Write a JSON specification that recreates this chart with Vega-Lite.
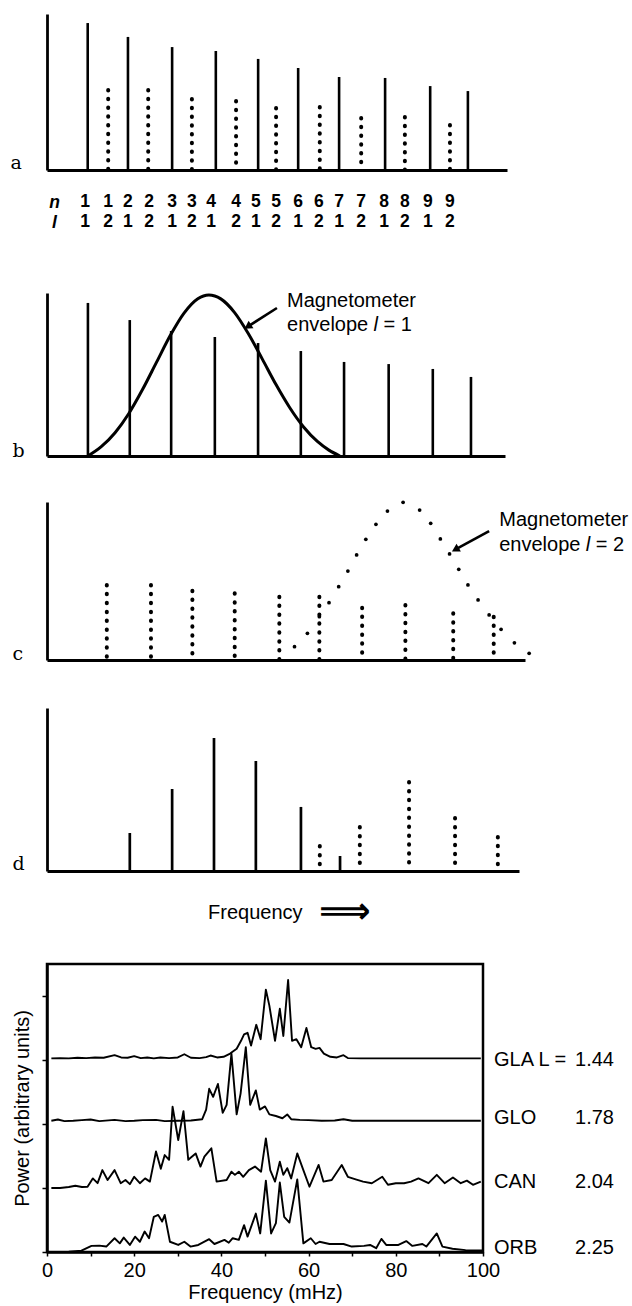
{
"$schema": "https://vega.github.io/schema/vega-lite/v6.json",
"padding": {"left": 10, "top": 0, "right": 0, "bottom": 0},
"background": "white",
"spacing": 0,
"bounds": "flush",
"config": {
  "view": {"stroke": null},
  "font": "Liberation Sans",
  "text": {"font": "Liberation Sans", "fontSize": 20, "color": "black"},
  "axis": {"domainColor": "black", "tickColor": "black", "labelColor": "black", "titleColor": "black", "grid": false}
},
"datasets": {
  "modesA": [
    {"f":8.85,"p":94.2,"l":1},{"f":13.3,"p":51.3,"l":2},{"f":17.6,"p":85.3,"l":1},{"f":22.0,"p":51.3,"l":2},
    {"f":27.2,"p":78.8,"l":1},{"f":31.5,"p":45.5,"l":2},{"f":36.7,"p":76.3,"l":1},{"f":41.1,"p":44.2,"l":2},
    {"f":45.9,"p":71.2,"l":1},{"f":49.8,"p":39.7,"l":2},{"f":54.6,"p":65.4,"l":1},{"f":59.3,"p":40.4,"l":2},
    {"f":63.5,"p":59.6,"l":1},{"f":68.3,"p":33.3,"l":2},{"f":73.5,"p":59.0,"l":1},{"f":77.8,"p":34.0,"l":2},
    {"f":83.3,"p":53.8,"l":1},{"f":87.6,"p":28.8,"l":2},{"f":91.5,"p":50.6,"l":1}
  ],
  "nl": [
    {"f":8.26,"n":"1","l":"1"},{"f":13.26,"n":"1","l":"2"},{"f":17.6,"n":"2","l":"1"},{"f":22.2,"n":"2","l":"2"},
    {"f":27.2,"n":"3","l":"1"},{"f":31.5,"n":"3","l":"2"},{"f":35.65,"n":"4","l":"1"},{"f":41.1,"n":"4","l":"2"},
    {"f":45.4,"n":"5","l":"1"},{"f":49.8,"n":"5","l":"2"},{"f":54.6,"n":"6","l":"1"},{"f":59.1,"n":"6","l":"2"},
    {"f":63.5,"n":"7","l":"1"},{"f":68.3,"n":"7","l":"2"},{"f":73.3,"n":"8","l":"1"},{"f":77.8,"n":"8","l":"2"},
    {"f":82.8,"n":"9","l":"1"},{"f":87.6,"n":"9","l":"2"}
  ],
  "modesB": [
    {"f":8.9,"p":93.9},{"f":18.0,"p":83.4},{"f":27.0,"p":76.7},{"f":36.5,"p":73.0},{"f":45.9,"p":69.3},
    {"f":55.2,"p":64.4},{"f":64.6,"p":57.7},{"f":74.3,"p":56.4},{"f":83.9,"p":53.4},{"f":92.2,"p":48.5}
  ],
  "envB": [
    {"f":8.9,"p":0},{"f":11.8,"p":5.7},{"f":14.8,"p":14.3},{"f":17.8,"p":26.1},{"f":20.8,"p":40.9},
    {"f":23.8,"p":57.4},{"f":26.8,"p":73.9},{"f":29.8,"p":87.7},{"f":32.8,"p":96.5},{"f":35.2,"p":98.8},
    {"f":37.8,"p":96.4},{"f":40.8,"p":88.0},{"f":43.8,"p":75.0},{"f":46.8,"p":59.6},{"f":49.8,"p":43.8},
    {"f":52.8,"p":29.6},{"f":55.8,"p":17.8},{"f":58.8,"p":8.9},{"f":61.3,"p":3.6},{"f":63.7,"p":0}
  ],
  "modesC": [
    {"f":13.0,"p":47.5},{"f":22.6,"p":47.5},{"f":31.6,"p":43.9},{"f":40.8,"p":42.2},{"f":50.5,"p":40.1},
    {"f":59.2,"p":40.1},{"f":68.5,"p":33.1},{"f":77.9,"p":34.8},{"f":88.3,"p":29.6},{"f":97.1,"p":27.4}
  ],
  "envC": [
    {"f":53.8,"p":8.4},{"f":56.6,"p":16.9},{"f":59.2,"p":27.4},{"f":61.3,"p":36.3},{"f":63.4,"p":46.4},
    {"f":65.4,"p":56.3},{"f":67.3,"p":66.5},{"f":69.3,"p":76.4},{"f":71.5,"p":85.9},{"f":74.0,"p":94.3},
    {"f":77.4,"p":99.8},{"f":81.0,"p":94.9},{"f":83.4,"p":86.5},{"f":85.5,"p":76.6},{"f":87.5,"p":67.1},
    {"f":89.5,"p":57.4},{"f":91.5,"p":47.5},{"f":93.7,"p":38.0},{"f":96.1,"p":28.5},{"f":98.7,"p":19.4},
    {"f":101.6,"p":10.9},{"f":104.8,"p":4.2}
  ],
  "modesD": [
    {"f":18.0,"p":23.3,"l":1},{"f":27.2,"p":50.3,"l":1},{"f":36.3,"p":81.6,"l":1},{"f":45.4,"p":67.5,"l":1},
    {"f":55.2,"p":39.3,"l":1},{"f":59.3,"p":15.3,"l":2},{"f":63.7,"p":9.2,"l":1},{"f":68.0,"p":27.0,"l":2},
    {"f":78.7,"p":54.6,"l":2},{"f":88.7,"p":32.5,"l":2},{"f":98.0,"p":20.9,"l":2}
  ],
  "notes": [
    {"panel":"b","f":52.2,"p":95.1,"txt":"Magnetometer","it":0},
    {"panel":"b","f":52.2,"p":80.4,"txt":"envelope","it":0},
    {"panel":"b","f":71.0,"p":80.4,"txt":"l","it":1},
    {"panel":"b","f":73.2,"p":80.4,"txt":"= 1","it":0},
    {"panel":"c","f":98.3,"p":88.6,"txt":"Magnetometer","it":0},
    {"panel":"c","f":98.3,"p":72.8,"txt":"envelope","it":0},
    {"panel":"c","f":117.1,"p":72.8,"txt":"l","it":1},
    {"panel":"c","f":119.3,"p":72.8,"txt":"= 2","it":0}
  ],
  "arrows": [
    {"panel":"b","f1":50.0,"p1":90.8,"f2":43.9,"p2":79.8},
    {"panel":"c","f1":96.1,"p1":81.6,"f2":89.0,"p2":70.3}
  ],
  "stations": [
    {"s":"GLA","name":"GLA L =","val":"1.44","level":6.0},
    {"s":"GLO","name":"GLO","val":"1.78","level":4.2},
    {"s":"CAN","name":"CAN","val":"2.04","level":2.2},
    {"s":"ORB","name":"ORB","val":"2.25","level":0.13}
  ],
  "spectra": [
    {"s":"GLA","x":1,"y":6.05},{"s":"GLA","x":3,"y":6.06},{"s":"GLA","x":5,"y":6.05},{"s":"GLA","x":7,"y":6.07},
    {"s":"GLA","x":9,"y":6.06},{"s":"GLA","x":11,"y":6.08},{"s":"GLA","x":13,"y":6.07},{"s":"GLA","x":15.5,"y":6.15},
    {"s":"GLA","x":17,"y":6.08},{"s":"GLA","x":18.5,"y":6.07},{"s":"GLA","x":20,"y":6.12},{"s":"GLA","x":21.5,"y":6.06},
    {"s":"GLA","x":23,"y":6.08},{"s":"GLA","x":24.5,"y":6.05},{"s":"GLA","x":26,"y":6.08},{"s":"GLA","x":28,"y":6.06},
    {"s":"GLA","x":30,"y":6.08},{"s":"GLA","x":31.5,"y":6.18},{"s":"GLA","x":33,"y":6.07},{"s":"GLA","x":35,"y":6.06},
    {"s":"GLA","x":36.5,"y":6.09},{"s":"GLA","x":37.5,"y":6.14},{"s":"GLA","x":39,"y":6.08},{"s":"GLA","x":40.5,"y":6.1},
    {"s":"GLA","x":42,"y":6.2},{"s":"GLA","x":43.5,"y":6.35},{"s":"GLA","x":44.5,"y":6.6},{"s":"GLA","x":45.2,"y":6.8},
    {"s":"GLA","x":46,"y":6.85},{"s":"GLA","x":46.8,"y":6.45},{"s":"GLA","x":48,"y":7.1},{"s":"GLA","x":49,"y":6.65},
    {"s":"GLA","x":50.2,"y":8.2},{"s":"GLA","x":51,"y":7.7},{"s":"GLA","x":52.3,"y":6.6},{"s":"GLA","x":53.4,"y":7.6},
    {"s":"GLA","x":54.2,"y":6.75},{"s":"GLA","x":55.3,"y":8.5},{"s":"GLA","x":56.2,"y":6.6},{"s":"GLA","x":57.2,"y":6.65},
    {"s":"GLA","x":58.3,"y":6.4},{"s":"GLA","x":59.5,"y":7.0},{"s":"GLA","x":60.6,"y":6.4},{"s":"GLA","x":61.6,"y":6.35},
    {"s":"GLA","x":62.5,"y":6.38},{"s":"GLA","x":63.5,"y":6.2},{"s":"GLA","x":65,"y":6.1},{"s":"GLA","x":66.5,"y":6.08},
    {"s":"GLA","x":68,"y":6.15},{"s":"GLA","x":69,"y":6.06},{"s":"GLA","x":72,"y":6.05},{"s":"GLA","x":76,"y":6.05},
    {"s":"GLA","x":80,"y":6.05},{"s":"GLA","x":85,"y":6.05},{"s":"GLA","x":90,"y":6.05},{"s":"GLA","x":95,"y":6.05},
    {"s":"GLA","x":99.5,"y":6.05},
    {"s":"GLO","x":1,"y":4.1},{"s":"GLO","x":2.5,"y":4.14},{"s":"GLO","x":4,"y":4.09},{"s":"GLO","x":6,"y":4.1},
    {"s":"GLO","x":8,"y":4.12},{"s":"GLO","x":10,"y":4.14},{"s":"GLO","x":12,"y":4.09},{"s":"GLO","x":15.5,"y":4.13},
    {"s":"GLO","x":18,"y":4.09},{"s":"GLO","x":20,"y":4.1},{"s":"GLO","x":22,"y":4.12},{"s":"GLO","x":25,"y":4.13},
    {"s":"GLO","x":27,"y":4.09},{"s":"GLO","x":30,"y":4.1},{"s":"GLO","x":33,"y":4.11},{"s":"GLO","x":35.6,"y":4.15},
    {"s":"GLO","x":36.5,"y":4.45},{"s":"GLO","x":37.2,"y":5.1},{"s":"GLO","x":38.1,"y":4.85},{"s":"GLO","x":39.2,"y":5.25},
    {"s":"GLO","x":40.3,"y":4.35},{"s":"GLO","x":41.2,"y":4.6},{"s":"GLO","x":42.3,"y":6.2},{"s":"GLO","x":43.5,"y":4.3},
    {"s":"GLO","x":44.4,"y":4.95},{"s":"GLO","x":45.6,"y":6.4},{"s":"GLO","x":46.6,"y":4.6},{"s":"GLO","x":47.9,"y":5.05},
    {"s":"GLO","x":48.8,"y":4.45},{"s":"GLO","x":50,"y":4.55},{"s":"GLO","x":51,"y":4.3},{"s":"GLO","x":52.5,"y":4.25},
    {"s":"GLO","x":54,"y":4.18},{"s":"GLO","x":55.1,"y":4.3},{"s":"GLO","x":56,"y":4.15},{"s":"GLO","x":58,"y":4.13},
    {"s":"GLO","x":60,"y":4.12},{"s":"GLO","x":63,"y":4.1},{"s":"GLO","x":66,"y":4.11},{"s":"GLO","x":68,"y":4.15},
    {"s":"GLO","x":70,"y":4.1},{"s":"GLO","x":75,"y":4.1},{"s":"GLO","x":80,"y":4.1},{"s":"GLO","x":85,"y":4.1},
    {"s":"GLO","x":90,"y":4.1},{"s":"GLO","x":95,"y":4.1},{"s":"GLO","x":99.5,"y":4.1},
    {"s":"CAN","x":1,"y":2.0},{"s":"CAN","x":3,"y":2.0},{"s":"CAN","x":5,"y":2.03},{"s":"CAN","x":6.5,"y":2.07},
    {"s":"CAN","x":8,"y":2.03},{"s":"CAN","x":9.3,"y":2.04},{"s":"CAN","x":10.5,"y":2.3},{"s":"CAN","x":11.6,"y":2.15},
    {"s":"CAN","x":12.7,"y":2.56},{"s":"CAN","x":13.9,"y":2.25},{"s":"CAN","x":15.5,"y":2.56},{"s":"CAN","x":16.9,"y":2.15},
    {"s":"CAN","x":18,"y":2.25},{"s":"CAN","x":19,"y":2.12},{"s":"CAN","x":20,"y":2.35},{"s":"CAN","x":21.3,"y":2.15},
    {"s":"CAN","x":22.5,"y":2.3},{"s":"CAN","x":23.6,"y":2.2},{"s":"CAN","x":25,"y":3.14},{"s":"CAN","x":26.1,"y":2.6},
    {"s":"CAN","x":27,"y":3.03},{"s":"CAN","x":28,"y":2.88},{"s":"CAN","x":28.8,"y":4.54},{"s":"CAN","x":30.1,"y":3.5},
    {"s":"CAN","x":31.3,"y":4.4},{"s":"CAN","x":32.4,"y":2.88},{"s":"CAN","x":34.1,"y":3.08},{"s":"CAN","x":35.2,"y":2.67},
    {"s":"CAN","x":36.1,"y":2.98},{"s":"CAN","x":37.7,"y":3.24},{"s":"CAN","x":38.9,"y":2.2},{"s":"CAN","x":41.2,"y":2.25},
    {"s":"CAN","x":42.3,"y":2.51},{"s":"CAN","x":43.1,"y":2.41},{"s":"CAN","x":44,"y":2.51},{"s":"CAN","x":45,"y":2.35},
    {"s":"CAN","x":46.3,"y":2.56},{"s":"CAN","x":47.7,"y":2.67},{"s":"CAN","x":49.1,"y":2.51},{"s":"CAN","x":50.2,"y":3.55},
    {"s":"CAN","x":51.2,"y":2.56},{"s":"CAN","x":52.3,"y":2.2},{"s":"CAN","x":53.4,"y":2.82},{"s":"CAN","x":54.2,"y":2.41},
    {"s":"CAN","x":55.1,"y":2.62},{"s":"CAN","x":56,"y":2.3},{"s":"CAN","x":57.4,"y":3.08},{"s":"CAN","x":58.8,"y":2.56},
    {"s":"CAN","x":60.2,"y":2.04},{"s":"CAN","x":62.3,"y":2.72},{"s":"CAN","x":63.4,"y":2.2},{"s":"CAN","x":65.3,"y":2.25},
    {"s":"CAN","x":67.6,"y":2.72},{"s":"CAN","x":69,"y":2.35},{"s":"CAN","x":70.8,"y":2.27},{"s":"CAN","x":72.5,"y":2.2},
    {"s":"CAN","x":74.5,"y":2.15},{"s":"CAN","x":76.9,"y":2.35},{"s":"CAN","x":78.2,"y":2.1},{"s":"CAN","x":80,"y":2.15},
    {"s":"CAN","x":81.9,"y":2.15},{"s":"CAN","x":83.5,"y":2.2},{"s":"CAN","x":85.2,"y":2.3},{"s":"CAN","x":87.5,"y":2.15},
    {"s":"CAN","x":89.4,"y":2.41},{"s":"CAN","x":91.2,"y":2.15},{"s":"CAN","x":93.1,"y":2.33},{"s":"CAN","x":94.9,"y":2.15},
    {"s":"CAN","x":96.3,"y":2.23},{"s":"CAN","x":97.7,"y":2.1},{"s":"CAN","x":99.5,"y":2.2},
    {"s":"ORB","x":1,"y":0.0},{"s":"ORB","x":5,"y":0.01},{"s":"ORB","x":7.9,"y":0.04},{"s":"ORB","x":10.2,"y":0.19},
    {"s":"ORB","x":12,"y":0.2},{"s":"ORB","x":13.6,"y":0.17},{"s":"ORB","x":15.5,"y":0.43},{"s":"ORB","x":16.7,"y":0.27},
    {"s":"ORB","x":17.6,"y":0.45},{"s":"ORB","x":19,"y":0.22},{"s":"ORB","x":20.2,"y":0.48},{"s":"ORB","x":21.3,"y":0.32},
    {"s":"ORB","x":22.4,"y":0.64},{"s":"ORB","x":23.4,"y":0.43},{"s":"ORB","x":24.5,"y":1.1},{"s":"ORB","x":25.5,"y":1.16},
    {"s":"ORB","x":26.4,"y":0.95},{"s":"ORB","x":27,"y":1.16},{"s":"ORB","x":28.2,"y":0.32},{"s":"ORB","x":30.1,"y":0.22},
    {"s":"ORB","x":31.5,"y":0.32},{"s":"ORB","x":32.9,"y":0.17},{"s":"ORB","x":34.7,"y":0.22},{"s":"ORB","x":37.2,"y":0.4},
    {"s":"ORB","x":38.4,"y":0.25},{"s":"ORB","x":40.7,"y":0.38},{"s":"ORB","x":41.7,"y":0.29},{"s":"ORB","x":42.6,"y":0.43},
    {"s":"ORB","x":44,"y":0.38},{"s":"ORB","x":45.2,"y":0.84},{"s":"ORB","x":46,"y":0.48},{"s":"ORB","x":47.9,"y":1.2},
    {"s":"ORB","x":48.9,"y":0.58},{"s":"ORB","x":50.2,"y":2.23},{"s":"ORB","x":51.4,"y":0.58},{"s":"ORB","x":52.5,"y":0.9},
    {"s":"ORB","x":53.4,"y":2.17},{"s":"ORB","x":54.4,"y":1.1},{"s":"ORB","x":55.6,"y":0.92},{"s":"ORB","x":57.4,"y":2.27},
    {"s":"ORB","x":58.8,"y":0.27},{"s":"ORB","x":60.5,"y":0.43},{"s":"ORB","x":61.6,"y":0.25},{"s":"ORB","x":62.5,"y":0.32},
    {"s":"ORB","x":64.8,"y":0.25},{"s":"ORB","x":68,"y":0.25},{"s":"ORB","x":69.9,"y":0.17},{"s":"ORB","x":72.7,"y":0.19},
    {"s":"ORB","x":74.1,"y":0.22},{"s":"ORB","x":75.5,"y":0.12},{"s":"ORB","x":76.7,"y":0.41},{"s":"ORB","x":77.8,"y":0.22},
    {"s":"ORB","x":80.6,"y":0.22},{"s":"ORB","x":82.4,"y":0.34},{"s":"ORB","x":83.8,"y":0.19},{"s":"ORB","x":86.1,"y":0.25},
    {"s":"ORB","x":87,"y":0.17},{"s":"ORB","x":89.4,"y":0.58},{"s":"ORB","x":90.7,"y":0.17},{"s":"ORB","x":93,"y":0.1},
    {"s":"ORB","x":96,"y":0.06},{"s":"ORB","x":100,"y":0.05}
  ]
},
"vconcat": [
  {
    "width": 460, "height": 170,
    "layer": [
      {"data": {"name": "modesA"}, "transform": [{"filter": "datum.l == 1"}],
       "mark": {"type": "rule", "strokeWidth": 2.6, "color": "black"},
       "encoding": {
         "x": {"field": "f", "type": "quantitative", "scale": {"domain": [0, 100], "nice": false},
               "axis": {"title": null, "ticks": false, "labels": false, "domainWidth": 3.2}},
         "y": {"field": "p", "type": "quantitative", "scale": {"domain": [0, 100], "nice": false, "range": [170, 14]},
               "axis": {"ticks": false, "labels": false, "domainWidth": 2.8, "title": "a", "titleAngle": 0,
                        "titleFont": "DejaVu Serif", "titleFontSize": 19, "titleFontWeight": "normal",
                        "titleAlign": "left", "titleBaseline": "alphabetic", "titleX": -37, "titleY": 168}},
         "y2": {"datum": 0}}},
      {"data": {"name": "modesA"}, "transform": [{"filter": "datum.l == 2"}],
       "mark": {"type": "rule", "strokeWidth": 4, "strokeDash": [0.5, 8.25], "strokeCap": "round", "color": "black"},
       "encoding": {"x": {"field": "f", "type": "quantitative"}, "y": {"field": "p", "type": "quantitative"}, "y2": {"datum": 0}}}
    ]
  },
  {
    "width": 460, "height": 62,
    "data": {"name": "nl"},
    "layer": [
      {"mark": {"type": "text", "fontSize": 17.5, "fontWeight": "bold", "baseline": "middle"},
       "encoding": {
         "x": {"field": "f", "type": "quantitative", "scale": {"domain": [0, 100], "nice": false}, "axis": null},
         "y": {"datum": 1, "type": "quantitative", "scale": {"domain": [-0.6, 2.5], "reverse": true, "nice": false, "zero": false},
               "axis": {"values": [1, 2], "labelExpr": "datum.value == 1 ? 'n' : 'l'", "ticks": false, "domain": false,
                        "labelPadding": -7, "labelAlign": "center", "labelFontSize": 17.5, "labelFontWeight": "bold",
                        "labelFontStyle": "italic", "labelFont": "Liberation Sans", "title": null}},
         "text": {"field": "n", "type": "nominal"}}},
      {"mark": {"type": "text", "fontSize": 17.5, "fontWeight": "bold", "baseline": "middle"},
       "encoding": {
         "x": {"field": "f", "type": "quantitative"},
         "y": {"datum": 2, "type": "quantitative"},
         "text": {"field": "l", "type": "nominal"}}}
    ]
  },
  {
    "width": 458, "height": 224,
    "layer": [
      {"data": {"name": "modesB"},
       "mark": {"type": "rule", "strokeWidth": 2.6, "color": "black"},
       "encoding": {
         "x": {"field": "f", "type": "quantitative", "scale": {"domain": [0, 99.6], "nice": false},
               "axis": {"title": null, "ticks": false, "labels": false, "domainWidth": 3.2}},
         "y": {"field": "p", "type": "quantitative", "scale": {"domain": [0, 100], "nice": false, "range": [224, 61]},
               "axis": {"ticks": false, "labels": false, "domainWidth": 2.8, "title": "b", "titleAngle": 0,
                        "titleFont": "DejaVu Serif", "titleFontSize": 19, "titleFontWeight": "normal",
                        "titleAlign": "left", "titleBaseline": "alphabetic", "titleX": -35, "titleY": 224}},
         "y2": {"datum": 0}}},
      {"data": {"name": "envB"},
       "mark": {"type": "line", "strokeWidth": 3, "color": "black", "interpolate": "monotone"},
       "encoding": {"x": {"field": "f", "type": "quantitative"}, "y": {"field": "p", "type": "quantitative"}}},
      {"data": {"name": "notes"}, "transform": [{"filter": "datum.panel == 'b' && datum.it == 0"}],
       "mark": {"type": "text", "align": "left", "baseline": "middle", "fontSize": 20},
       "encoding": {"x": {"field": "f", "type": "quantitative"}, "y": {"field": "p", "type": "quantitative"}, "text": {"field": "txt"}}},
      {"data": {"name": "notes"}, "transform": [{"filter": "datum.panel == 'b' && datum.it == 1"}],
       "mark": {"type": "text", "align": "left", "baseline": "middle", "fontSize": 20, "fontStyle": "italic"},
       "encoding": {"x": {"field": "f", "type": "quantitative"}, "y": {"field": "p", "type": "quantitative"}, "text": {"field": "txt"}}},
      {"data": {"name": "arrows"}, "transform": [{"filter": "datum.panel == 'b'"}],
       "mark": {"type": "rule", "strokeWidth": 2.6, "color": "black"},
       "encoding": {"x": {"field": "f1", "type": "quantitative"}, "y": {"field": "p1", "type": "quantitative"},
                    "x2": {"field": "f2"}, "y2": {"field": "p2"}}},
      {"data": {"name": "arrows"}, "transform": [{"filter": "datum.panel == 'b'"}],
       "mark": {"type": "point", "shape": "triangle", "filled": true, "size": 80, "angle": 237, "color": "black", "opacity": 1},
       "encoding": {"x": {"field": "f2", "type": "quantitative"}, "y": {"field": "p2", "type": "quantitative"}}}
    ]
  },
  {
    "width": 478, "height": 204,
    "layer": [
      {"data": {"name": "modesC"},
       "mark": {"type": "rule", "strokeWidth": 4, "strokeDash": [0.5, 8.4], "strokeCap": "round", "color": "black"},
       "encoding": {
         "x": {"field": "f", "type": "quantitative", "scale": {"domain": [0, 103.9], "nice": false},
               "axis": {"title": null, "ticks": false, "labels": false, "domainWidth": 3.2}},
         "y": {"field": "p", "type": "quantitative", "scale": {"domain": [0, 100], "nice": false, "range": [204, 46]},
               "axis": {"ticks": false, "labels": false, "domainWidth": 2.8, "title": "c", "titleAngle": 0,
                        "titleFont": "DejaVu Serif", "titleFontSize": 19, "titleFontWeight": "normal",
                        "titleAlign": "left", "titleBaseline": "alphabetic", "titleX": -35, "titleY": 203}},
         "y2": {"datum": 0}}},
      {"data": {"name": "envC"},
       "mark": {"type": "point", "shape": "circle", "filled": true, "size": 14, "color": "black", "opacity": 1},
       "encoding": {"x": {"field": "f", "type": "quantitative"}, "y": {"field": "p", "type": "quantitative"}}},
      {"data": {"name": "notes"}, "transform": [{"filter": "datum.panel == 'c' && datum.it == 0"}],
       "mark": {"type": "text", "align": "left", "baseline": "middle", "fontSize": 20},
       "encoding": {"x": {"field": "f", "type": "quantitative"}, "y": {"field": "p", "type": "quantitative"}, "text": {"field": "txt"}}},
      {"data": {"name": "notes"}, "transform": [{"filter": "datum.panel == 'c' && datum.it == 1"}],
       "mark": {"type": "text", "align": "left", "baseline": "middle", "fontSize": 20, "fontStyle": "italic"},
       "encoding": {"x": {"field": "f", "type": "quantitative"}, "y": {"field": "p", "type": "quantitative"}, "text": {"field": "txt"}}},
      {"data": {"name": "arrows"}, "transform": [{"filter": "datum.panel == 'c'"}],
       "mark": {"type": "rule", "strokeWidth": 2.6, "color": "black"},
       "encoding": {"x": {"field": "f1", "type": "quantitative"}, "y": {"field": "p1", "type": "quantitative"},
                    "x2": {"field": "f2"}, "y2": {"field": "p2"}}},
      {"data": {"name": "arrows"}, "transform": [{"filter": "datum.panel == 'c'"}],
       "mark": {"type": "point", "shape": "triangle", "filled": true, "size": 80, "angle": 241, "color": "black", "opacity": 1},
       "encoding": {"x": {"field": "f2", "type": "quantitative"}, "y": {"field": "p2", "type": "quantitative"}}}
    ]
  },
  {
    "width": 472, "height": 211,
    "layer": [
      {"data": {"name": "modesD"}, "transform": [{"filter": "datum.l == 1"}],
       "mark": {"type": "rule", "strokeWidth": 2.7, "color": "black"},
       "encoding": {
         "x": {"field": "f", "type": "quantitative", "scale": {"domain": [0, 102.6], "nice": false},
               "axis": {"title": null, "ticks": false, "labels": false, "domainWidth": 3.2}},
         "y": {"field": "p", "type": "quantitative", "scale": {"domain": [0, 100], "nice": false, "range": [211, 48]},
               "axis": {"ticks": false, "labels": false, "domainWidth": 2.8, "title": "d", "titleAngle": 0,
                        "titleFont": "DejaVu Serif", "titleFontSize": 19, "titleFontWeight": "normal",
                        "titleAlign": "left", "titleBaseline": "alphabetic", "titleX": -35, "titleY": 209}},
         "y2": {"datum": 0}}},
      {"data": {"name": "modesD"}, "transform": [{"filter": "datum.l == 2"}],
       "mark": {"type": "rule", "strokeWidth": 4, "strokeDash": [0.5, 8.4], "strokeCap": "round", "color": "black"},
       "encoding": {"x": {"field": "f", "type": "quantitative"}, "y": {"field": "p", "type": "quantitative"}, "y2": {"datum": 0}}}
    ]
  },
  {
    "width": 472, "height": 93,
    "data": {"values": [{"label": "Frequency", "arrow": "⟹"}]},
    "layer": [
      {"mark": {"type": "text", "align": "left", "baseline": "middle", "fontSize": 20, "dy": -5},
       "encoding": {"x": {"datum": 35, "type": "quantitative", "scale": {"domain": [0, 102.6], "nice": false}, "axis": null},
                    "text": {"field": "label"}}},
      {"mark": {"type": "text", "align": "left", "baseline": "middle", "fontSize": 36, "font": "DejaVu Sans", "fontWeight": "bold", "dy": -6},
       "encoding": {"x": {"datum": 59.1, "type": "quantitative"}, "text": {"field": "arrow"}}}
    ]
  },
  {
    "width": 436, "height": 288,
    "view": {"stroke": "black", "strokeWidth": 2.5},
    "layer": [
      {"data": {"name": "spectra"},
       "mark": {"type": "line", "strokeWidth": 1.9, "color": "black", "strokeJoin": "round"},
       "encoding": {
         "x": {"field": "x", "type": "quantitative", "scale": {"domain": [0, 100], "nice": false},
               "axis": {"values": [0, 10, 20, 30, 40, 50, 60, 70, 80, 90, 100],
                        "labelExpr": "datum.value % 20 == 0 ? datum.label : ''",
                        "tickSize": 4, "tickWidth": 1.5, "domainWidth": 2.5, "labelFontSize": 20, "labelPadding": 4,
                        "labelFlush": false, "labelOverlap": false, "labelFont": "Liberation Sans",
                        "title": "Frequency (mHz)", "titleFontSize": 20, "titleFontWeight": "normal",
                        "titleFont": "Liberation Sans", "titlePadding": 2}},
         "y": {"field": "y", "type": "quantitative", "scale": {"domain": [0, 9], "nice": false},
               "axis": {"values": [0, 1, 2, 3, 4, 5, 6, 7, 8, 9], "labels": false, "tickSize": 5, "tickWidth": 1.5,
                        "domainWidth": 2.5, "title": "Power (arbitrary units)", "titleFontSize": 20,
                        "titleFontWeight": "normal", "titleFont": "Liberation Sans", "titleX": -25, "titleBaseline": "middle"}},
         "detail": {"field": "s", "type": "nominal"}}},
      {"data": {"name": "stations"},
       "mark": {"type": "text", "align": "left", "baseline": "middle", "fontSize": 20, "dx": 11},
       "encoding": {"x": {"datum": 100, "type": "quantitative"}, "y": {"field": "level", "type": "quantitative"}, "text": {"field": "name"}}},
      {"data": {"name": "stations"},
       "mark": {"type": "text", "align": "right", "baseline": "middle", "fontSize": 20, "dx": 131},
       "encoding": {"x": {"datum": 100, "type": "quantitative"}, "y": {"field": "level", "type": "quantitative"}, "text": {"field": "val"}}}
    ]
  }
]
}
